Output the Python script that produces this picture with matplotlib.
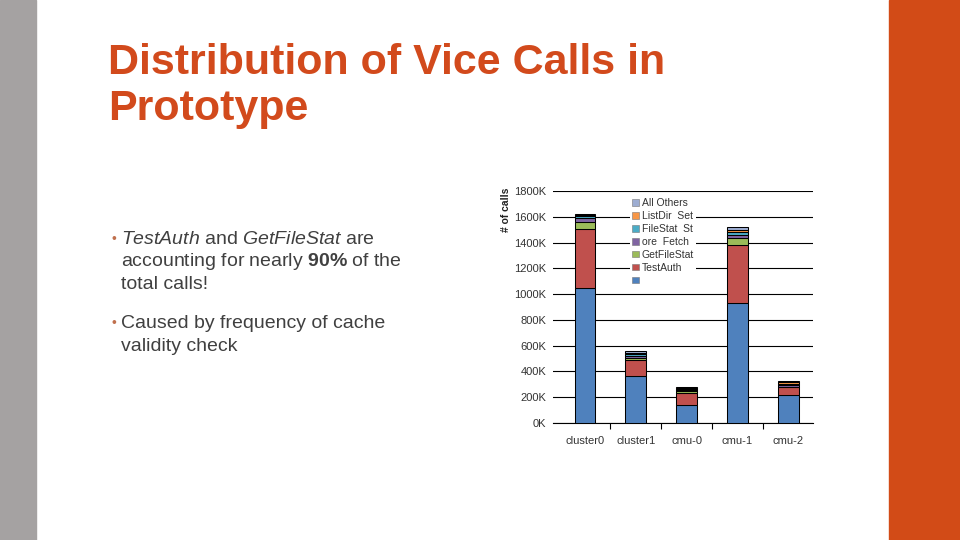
import matplotlib
matplotlib.use('Agg')
import matplotlib.pyplot as plt
from matplotlib.patches import Rectangle

plt.rcParams['font.family'] = ['Liberation Sans', 'DejaVu Sans']
plt.rcParams['mathtext.fontset'] = 'custom'
plt.rcParams['mathtext.rm'] = 'Liberation Sans'
plt.rcParams['mathtext.it'] = 'Liberation Sans:italic'
plt.rcParams['mathtext.bf'] = 'Liberation Sans:bold'

# values in K calls
categories = ['cluster0', 'cluster1', 'cmu-0', 'cmu-1', 'cmu-2']
base_calls = [1046, 364, 142, 932, 219]
test_auth = [457, 127, 90, 450, 57]
get_file_stat = [58, 14, 16, 57, 4]
ore_fetch = [26, 14, 9, 22, 12]
file_stat_st = [16, 14, 8, 20, 12]
list_dir_set = [8, 13, 8, 17, 11]
all_others = [8, 14, 8, 20, 12]

series_labels = ['', 'TestAuth', 'GetFileStat', 'ore  Fetch', 'FileStat  St', 'ListDir  Set', 'All Others']
series_colors = ['#4F81BD', '#C0504D', '#9BBB59', '#8064A2', '#4BACC6', '#F79646', '#9DADD2']
y_ticks = [0, 200, 400, 600, 800, 1000, 1200, 1400, 1600, 1800]

W, H = 960, 540
fig = plt.figure(figsize=(9.6, 5.4), dpi=100)
fig.patch.set_facecolor('white')

# side strips of the slide
fig.patches.append(Rectangle((0, 0), 36 / W, 1, transform=fig.transFigure, color='#A5A2A2', zorder=0))
fig.patches.append(Rectangle((889 / W, 0), 71 / W, 1, transform=fig.transFigure, color='#D24B17', zorder=0))


def fy(px):
    return 1 - px / H


title_color = '#D24A1C'
fig.text(108 / W, fy(74), 'Distribution of Vice Calls in', fontsize=31, fontweight='bold',
         color=title_color, va='baseline')
fig.text(108 / W, fy(120), 'Prototype', fontsize=31, fontweight='bold',
         color=title_color, va='baseline')

body = '#404040'
bullet = '#C0704D'
lines = [
    (244, r'$\mathit{TestAuth}$ and $\mathit{GetFileStat}$ are', True),
    (266, r'accounting for nearly $\mathbf{90\%}$ of the', False),
    (289, 'total calls!', False),
    (328, 'Caused by frequency of cache', True),
    (351, 'validity check', False),
]
for y, txt, has_bullet in lines:
    if has_bullet:
        fig.text(111 / W, fy(y - 1), '•', fontsize=10, color=bullet, va='baseline')
    fig.text(121 / W, fy(y), txt, fontsize=14, color=body, va='baseline')

# chart
ax = fig.add_axes([553 / W, 1 - 423 / H, 260 / W, 232 / H])
series = [base_calls, test_auth, get_file_stat, ore_fetch, file_stat_st, list_dir_set, all_others]
x = list(range(len(categories)))
bottom = [0] * len(categories)
handles = []
for vals, lab, col in zip(series, series_labels, series_colors):
    b = ax.bar(x, vals, width=0.41, bottom=bottom, color=col, edgecolor='black',
               linewidth=0.75, label=lab, zorder=3)
    handles.append(b)
    bottom = [bo + v for bo, v in zip(bottom, vals)]

ax.set_xlim(-0.63, 4.49)
ax.set_ylim(0, 1800)
ax.set_yticks(y_ticks)
ax.set_yticklabels([f'{t}K' for t in y_ticks])
ax.set_xticks(x)
ax.set_xticklabels(categories)
ax.set_xticks([i + 0.5 for i in range(len(categories) - 1)], minor=True)
ax.tick_params(axis='both', which='major', length=0, labelsize=8, colors='#333333')
ax.tick_params(axis='x', which='minor', length=4, width=0.8, color='black', direction='out')
ax.tick_params(axis='y', pad=5)
ax.tick_params(axis='x', which='major', pad=9)
for s in ['top', 'left', 'right']:
    ax.spines[s].set_visible(False)
ax.spines['bottom'].set_color('black')
ax.spines['bottom'].set_linewidth(0.8)
ax.yaxis.grid(True, color='black', linewidth=0.8, zorder=0)
ax.set_axisbelow(True)
ax.set_ylabel('# of calls', fontsize=7.5, fontweight='bold', color='#222222')
ax.yaxis.set_label_coords(-0.16, 0.92)

leg = ax.legend(handles[::-1], series_labels[::-1], loc='upper left',
                bbox_to_anchor=(0.297, 0.978), fontsize=7.5, frameon=True,
                facecolor='white', edgecolor='none', framealpha=1,
                handlelength=0.6, handleheight=0.6, handletextpad=0.3,
                labelspacing=0.28, borderpad=0.2, borderaxespad=0)
for t in leg.get_texts():
    t.set_color('#333333')
for h in leg.legend_handles:
    h.set_edgecolor('#777777')
    h.set_linewidth(0.4)
leg.set_zorder(5)

fig.savefig('out.png', dpi=100)
